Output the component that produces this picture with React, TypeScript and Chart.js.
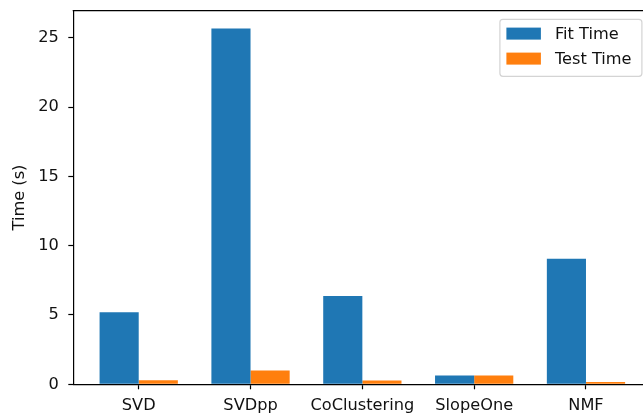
import { useEffect, useRef } from "react";
import { Chart, registerables } from "chart.js";

Chart.register(...registerables);

// Benchmark results per algorithm (seconds)
const algorithms = ["SVD", "SVDpp", "CoClustering", "SlopeOne", "NMF"];
const fitTimes = [5.2, 25.67, 6.37, 0.63, 9.05];
const testTimes = [0.3, 1.0, 0.28, 0.63, 0.16];
const seriesLabels = ["Fit Time", "Test Time"];
const yTickValues = [0, 5, 10, 15, 20, 25];

const FONT_FAMILY = "'DejaVu Sans', sans-serif";
const FONT_SIZE = 16.2;
const TEXT_COLOR = "#111";
const BLUE = "#1f77b4";
const ORANGE = "#ff7f0e";

const CANVAS_W = 660;
const CANVAS_H = 414;

// Top/right spines of the axes box
const spines = {
  id: "spines",
  afterDraw(chart: any) {
    const { ctx, chartArea } = chart;
    ctx.save();
    ctx.strokeStyle = "#000";
    ctx.lineWidth = 1.2;
    ctx.beginPath();
    ctx.moveTo(chartArea.left - 0.6, chartArea.top);
    ctx.lineTo(chartArea.right, chartArea.top);
    ctx.lineTo(chartArea.right, chartArea.bottom);
    ctx.stroke();
    ctx.restore();
  },
};

// Framed legend in the upper-right corner of the plot
const boxLegend = {
  id: "boxLegend",
  afterDraw(chart: any) {
    const { ctx, chartArea } = chart;
    const w = 142;
    const h = 57;
    const x = chartArea.right - 9.5 - w;
    const y = chartArea.top + 8.6;
    ctx.save();
    ctx.beginPath();
    ctx.roundRect(x, y, w, h, 3);
    ctx.fillStyle = "rgba(255,255,255,0.8)";
    ctx.fill();
    ctx.strokeStyle = "#d4d4d4";
    ctx.lineWidth = 1.2;
    ctx.stroke();
    chart.data.datasets.forEach((ds: any, i: number) => {
      const cy = y + 14.3 + i * 25;
      ctx.fillStyle = ds.backgroundColor;
      ctx.fillRect(x + 6.5, cy - 6, 34.5, 12);
      ctx.fillStyle = TEXT_COLOR;
      ctx.font = `${FONT_SIZE}px ${FONT_FAMILY}`;
      ctx.textBaseline = "middle";
      ctx.textAlign = "left";
      ctx.fillText(ds.label, x + 55, cy + 1);
    });
    ctx.restore();
  },
};

export default function App() {
  const canvasRef = useRef<HTMLCanvasElement | null>(null);

  useEffect(() => {
    const canvas = canvasRef.current;
    if (!canvas) return;
    const yMax = Math.max(...fitTimes, ...testTimes) * 1.05;
    const font = { family: FONT_FAMILY, size: FONT_SIZE };

    const chart = new Chart(canvas, {
      type: "bar",
      data: {
        datasets: [
          {
            label: seriesLabels[0],
            data: algorithms.map((_, i) => ({ x: i, y: fitTimes[i] })),
            backgroundColor: BLUE,
            borderWidth: 0,
          },
          {
            label: seriesLabels[1],
            data: algorithms.map((_, i) => ({ x: i, y: testTimes[i] })),
            backgroundColor: ORANGE,
            borderWidth: 0,
          },
        ],
      },
      options: {
        animation: false,
        responsive: false,
        events: [],
        devicePixelRatio: 1,
        datasets: {
          bar: { categoryPercentage: 0.7, barPercentage: 1.0 },
        },
        layout: { padding: { top: 10.7, right: CANVAS_W - 651.4, left: 0, bottom: 0 } },
        plugins: {
          legend: { display: false },
          tooltip: { enabled: false },
        },
        scales: {
          x: {
            type: "linear",
            offset: false,
            min: -0.585,
            max: algorithms.length - 1 + 0.585,
            afterBuildTicks: (scale: any) => {
              scale.ticks = algorithms.map((_, i) => ({ value: i }));
            },
            afterFit: (scale: any) => {
              scale.height = CANVAS_H - 384.3;
              scale.paddingLeft = 0;
              scale.paddingRight = 0;
            },
            ticks: {
              color: TEXT_COLOR,
              font,
              padding: 6.5,
              maxRotation: 0,
              autoSkip: false,
              callback: (v: any) => algorithms[v] ?? "",
            },
            grid: {
              offset: false,
              drawOnChartArea: false,
              drawTicks: true,
              tickLength: 5,
              tickColor: "#000",
              tickWidth: 1.2,
            },
            border: { display: true, color: "#000", width: 1.2 },
          },
          y: {
            min: 0,
            max: yMax,
            afterBuildTicks: (scale: any) => {
              scale.ticks = yTickValues.map((v) => ({ value: v }));
            },
            afterFit: (scale: any) => {
              scale.width = 73.3;
              scale.paddingTop = 0;
              scale.paddingBottom = 0;
            },
            ticks: {
              color: TEXT_COLOR,
              font,
              padding: 9.5,
            },
            title: {
              display: true,
              text: "Time (s)",
              color: TEXT_COLOR,
              font,
              padding: { top: 10.5, bottom: 0 },
            },
            grid: {
              drawOnChartArea: false,
              drawTicks: true,
              tickLength: 5,
              tickColor: "#000",
              tickWidth: 1.2,
            },
            border: { display: true, color: "#000", width: 1.2 },
          },
        },
      },
      plugins: [spines, boxLegend],
    });

    return () => chart.destroy();
  }, []);

  return (
    <div
      style={{
        position: "fixed",
        left: 0,
        top: 0,
        width: 643,
        height: CANVAS_H,
        overflow: "hidden",
        background: "#fff",
      }}
    >
      <canvas ref={canvasRef} width={CANVAS_W} height={CANVAS_H} style={{ display: "block" }} />
    </div>
  );
}
